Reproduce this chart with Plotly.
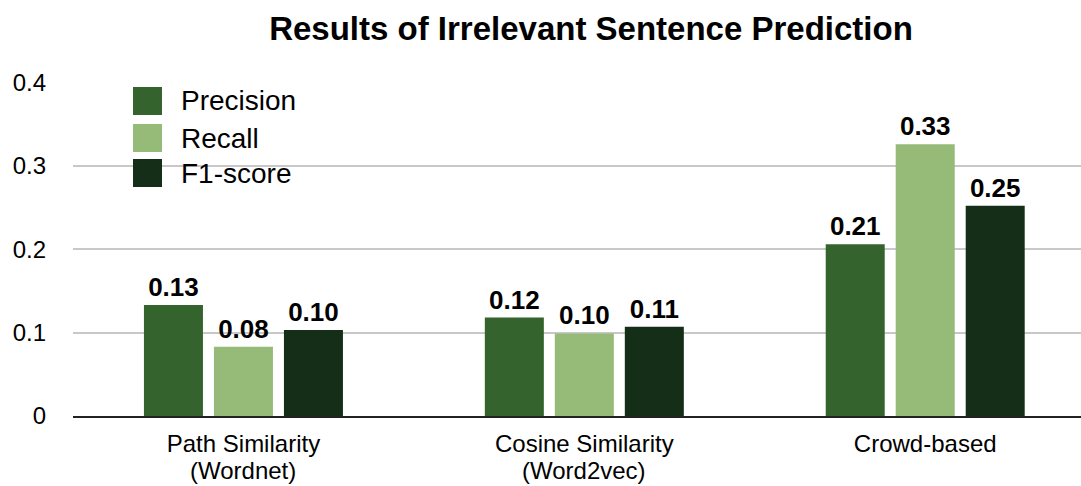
import plotly.graph_objects as go

# Categories and scores
methods = ["Path Similarity", "Cosine Similarity", "Crowd-based"]
method_notes = ["(Wordnet)", "(Word2vec)", ""]
series_names = ["Precision", "Recall", "F1-score"]
precision = [0.133, 0.118, 0.206]
recall = [0.083, 0.099, 0.326]
f1_score = [0.103, 0.107, 0.252]
colors = ["#34632D", "#96BA77", "#142E18"]

y_ticks = [0, 0.1, 0.2, 0.3, 0.4]
y_tick_labels = ["0", "0.1", "0.2", "0.3", "0.4"]

FONT = "Liberation Sans, Arial, Helvetica, sans-serif"

W, H = 1081, 486
M_L, M_R, M_T, M_B = 73, 0, 82, 70
plot_w = W - M_L - M_R
plot_h = H - M_T - M_B

fig = go.Figure()
for name, vals, col in zip(series_names, [precision, recall, f1_score], colors):
    fig.add_trace(go.Bar(
        x=methods, y=vals, name=name,
        marker=dict(color=col, line=dict(width=0)),
        texttemplate="<b>%{y:.2f}</b>", textposition="outside",
        textfont=dict(size=26, color="#000000", family=FONT),
        cliponaxis=False, showlegend=False,
    ))

# Legend drawn as large swatches with labels
shapes = []
annotations = []
swatch_top = [87, 124, 159]
for name, col, top in zip(series_names, colors, swatch_top):
    shapes.append(dict(type="rect", xref="paper", yref="paper",
                       x0=(133 - M_L) / plot_w, x1=(162 - M_L) / plot_w,
                       y0=(H - M_B - (top + 28)) / plot_h,
                       y1=(H - M_B - top) / plot_h,
                       fillcolor=col, line=dict(width=0), layer="above"))
    annotations.append(dict(xref="paper", yref="paper",
                            x=(179 - M_L) / plot_w,
                            y=(H - M_B - (top + 14)) / plot_h,
                            text=name, showarrow=False, xanchor="left", yanchor="middle",
                            font=dict(size=28, color="#000000", family=FONT)))

# Second line of the category labels, set a little tighter than the axis would
for m, note in zip(methods, method_notes):
    if note:
        annotations.append(dict(xref="x", yref="paper", x=m,
                                y=-(470 - (H - M_B)) / plot_h,
                                text=note, showarrow=False, xanchor="center", yanchor="middle",
                                font=dict(size=24, color="#000000", family=FONT)))

fig.update_layout(
    width=W, height=H,
    margin=dict(l=M_L, r=M_R, t=M_T, b=M_B, autoexpand=False),
    paper_bgcolor="white", plot_bgcolor="white",
    barmode="group", bargap=0.384, bargroupgap=0.157,
    title=dict(text="<b>Results of Irrelevant Sentence Prediction</b>",
               x=591 / W, xanchor="center", y=1 - 28 / H, yanchor="middle",
               font=dict(size=33, color="#000000", family=FONT)),
    shapes=shapes, annotations=annotations,
    font=dict(family=FONT, color="#000000"),
)
fig.update_xaxes(
    type="category", range=[-0.5, 2.457], automargin=False,
    showgrid=False, showline=True, linecolor="#222222", linewidth=2,
    ticks="", ticklabelstandoff=5,
    tickfont=dict(size=24, color="#000000", family=FONT),
)
fig.update_yaxes(
    range=[0, 0.4005], tickvals=y_ticks, ticktext=y_tick_labels, automargin=False,
    showgrid=True, gridcolor="#C8C8C8", gridwidth=1.5,
    zeroline=False, showline=False, ticks="", ticklabelstandoff=26,
    tickfont=dict(size=24, color="#000000", family=FONT),
)

fig.write_html("out.html")
